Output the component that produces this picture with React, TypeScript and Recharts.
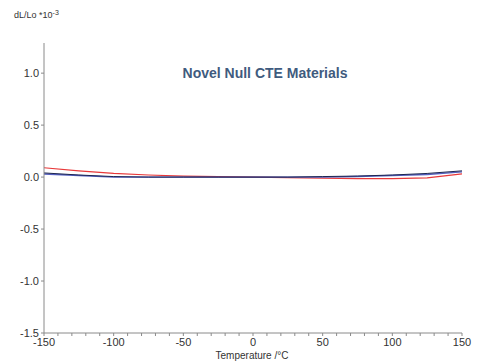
import React from 'react';
import { LineChart, Line, XAxis, YAxis } from 'recharts';

const temperatures = [-150, -125, -100, -75, -50, -25, 0, 25, 50, 75, 100, 125, 150];
const redSeries = [0.09, 0.06, 0.035, 0.02, 0.01, 0.005, 0.0, -0.005, -0.01, -0.015, -0.015, -0.008, 0.03];
const blueSeries = [0.03, 0.015, 0.0, 0.0, 0.0, 0.0, 0.0, 0.0, 0.0, 0.005, 0.015, 0.025, 0.05];
const navySeries = [0.04, 0.02, 0.005, 0.0, 0.0, 0.0, 0.0, 0.0, 0.005, 0.01, 0.02, 0.035, 0.06];

// major ticks get labels, the rest are minor marks
const xLabelTicks = [-150, -100, -50, 0, 50, 100, 150];
const xAllTicks = [
  -150, -140, -130, -120, -110, -100, -90, -80, -70, -60, -50, -40, -30, -20, -10,
  0, 10, 20, 30, 40, 50, 60, 70, 80, 90, 100, 110, 120, 130, 140, 150,
];
const yTicks = [-1.5, -1.0, -0.5, 0.0, 0.5, 1.0];

const data = temperatures.map((t, i) => ({
  t,
  red: redSeries[i],
  blue: blueSeries[i],
  navy: navySeries[i],
}));

const axisColor = '#8a8a8a';
const font = 'Liberation Sans, Arial, sans-serif';
const tickStyle = { fontSize: 11, fill: '#333', fontFamily: font };

export default function App() {
  return (
    <div style={{ position: 'absolute', top: 0, left: 0, width: 483, height: 363, background: '#fff' }}>
      <LineChart width={483} height={363} data={data} margin={{ top: 43, right: 21, bottom: 0, left: 0 }}>
        <XAxis
          dataKey="t"
          type="number"
          domain={[-150, 150]}
          ticks={xAllTicks}
          interval={0}
          stroke={axisColor}
          tickSize={3}
          tick={tickStyle}
          tickFormatter={(v: number) => (xLabelTicks.includes(v) ? String(v) : '')}
          height={30}
        />
        <YAxis
          type="number"
          domain={[-1.5, 1.29]}
          ticks={yTicks}
          stroke={axisColor}
          tickSize={3}
          width={44}
          tick={tickStyle}
          tickFormatter={(v: number) => v.toFixed(1)}
          allowDataOverflow
        />
        <Line dataKey="red" stroke="#e8393a" strokeWidth={1.2} dot={false} isAnimationActive={false} />
        <Line dataKey="blue" stroke="#5560c0" strokeWidth={1.4} dot={false} isAnimationActive={false} />
        <Line dataKey="navy" stroke="#1c2550" strokeWidth={1} dot={false} isAnimationActive={false} />
        <text x={265} y={78} textAnchor="middle" fontSize={14} fontWeight="bold" fill="#3f5b7e" fontFamily={font}>
          Novel Null CTE Materials
        </text>
        <text x={14} y={18} fontSize={9} fill="#333" fontFamily={font}>
          dL/Lo *10<tspan dy={-3} fontSize={7}>-3</tspan>
        </text>
        <text x={252} y={359} textAnchor="middle" fontSize={10} fill="#333" fontFamily={font}>
          Temperature /°C
        </text>
      </LineChart>
    </div>
  );
}
